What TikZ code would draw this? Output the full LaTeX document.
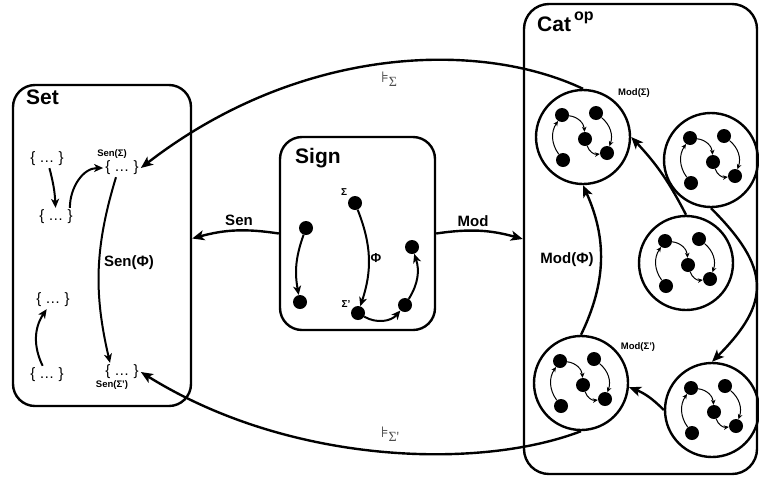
\documentclass[tikz,border=0pt]{standalone}
\usepackage{amsmath,amssymb}
\usepackage{fontspec}
\setmainfont{Liberation Sans}
\newfontfamily\modelsfont{DejaVu Sans}
\newfontfamily\subfont{Liberation Serif}
\usetikzlibrary{arrows.meta,calc,positioning}

\tikzset{
	panel/.style={draw, line width=2.4pt, rounded corners=22pt, inner sep=0pt},
	paneltitle/.style={anchor=base west, inner sep=0pt, font=\fontsize{21}{21}\selectfont\bfseries},
	setelem/.style={inner sep=2pt, font=\fontsize{15}{15}\selectfont},
	smalllbl/.style={inner sep=0pt, font=\fontsize{9.5}{9.5}\selectfont\bfseries},
	arrlbl/.style={inner sep=0pt, font=\fontsize{15}{15}\selectfont\bfseries},
	models/.style={inner sep=0pt, text=black!70, font=\fontsize{15}{15}\selectfont},
	sdot/.style={circle, fill, inner sep=0pt, minimum size=14pt},
	modcirc/.style={circle, draw, line width=2.4pt, inner sep=0pt, minimum size=94pt},
	bigarr/.style={line width=2.4pt, -{Stealth[length=12pt,width=10pt,inset=3pt]}},
	midarr/.style={line width=2pt, -{Stealth[length=9pt,width=8pt,inset=2.5pt]}},
	thinarr/.style={line width=1pt, -{Stealth[length=5pt,width=4.5pt,inset=1.5pt]}}
}

% satisfaction symbol with a serif subscript
\newcommand{\sat}[1]{{\modelsfont ⊧}\raisebox{-4pt}{\subfont\fontsize{14}{14}\selectfont #1}}

% small category drawn inside a model circle
\newcommand{\modgraph}[1]{%
	\node[sdot] (#1a) at ($(#1)+(-21,22)$) {};
	\node[sdot] (#1b) at ($(#1)+(13,24)$) {};
	\node[sdot] (#1c) at ($(#1)+(2,-2)$) {};
	\node[sdot] (#1d) at ($(#1)+(24,-16)$) {};
	\node[sdot] (#1e) at ($(#1)+(-20,-23)$) {};
	\draw[thinarr] (#1e) to[bend left=35] (#1a);
	\draw[thinarr] (#1a) to[bend left=40] (#1c);
	\draw[thinarr] (#1b) to[bend left=35] (#1d);
	\draw[thinarr] (#1c) to[bend right=40] (#1d);
}

\begin{document}
\begin{tikzpicture}[x=1pt, y=1pt]
	\useasboundingbox (0,0) rectangle (759,-477);

	% panels
	\node[panel, minimum width=178pt, minimum height=321pt] (set) at (102,-245.5) {};
	\node[panel, minimum width=155pt, minimum height=193pt] (sign) at (357.5,-233.5) {};
	\node[panel, minimum width=233pt, minimum height=470pt, rounded corners=25pt] (cat) at (640.5,-239) {};
	\node[paneltitle] (settitle) at (26,-104) {Set};
	\node[paneltitle] (signtitle) at (295,-163) {Sign};
	\node[paneltitle] (cattitle) at (537,-31) {Cat\hspace{3pt}\raisebox{11pt}{\fontsize{16}{16}\selectfont op}};

	% Set
	\node[setelem] (s1) at (47,-159) {\{ … \}};
	\node[setelem] (s2) at (56,-217) {\{ … \}};
	\node[setelem] (s3) at (122,-168) {\{ … \}};
	\node[setelem] (s4) at (53,-300) {\{ … \}};
	\node[setelem] (s5) at (47,-375) {\{ … \}};
	\node[setelem] (s6) at (122,-372) {\{ … \}};
	\node[smalllbl] (sensig) at (112,-154) {Sen(Σ)};
	\node[smalllbl] (sensigp) at (112,-385) {Sen(Σ')};
	\node[arrlbl] (senphi) at (129,-263) {Sen(Φ)};
	\draw[midarr] (s1) to[bend left=6] (s2);
	\draw[midarr] ($(s2.north east)+(-5,0)$) to[out=90, in=180] (s3.west);
	\draw[midarr] ($(s3.south)+(-6,0)$) to[bend right=15] ($(s6.north)+(-12,0)$);
	\draw[midarr] (s5) to[bend left=30] (s4);

	% Sign
	\node[sdot] (d1) at (355,-203) {};
	\node[sdot] (d2) at (306,-228) {};
	\node[sdot] (d3) at (300,-302) {};
	\node[sdot] (d4) at (358,-313) {};
	\node[sdot] (d5) at (405,-305) {};
	\node[sdot] (d6) at (412,-247) {};
	\node[smalllbl, font=\fontsize{10}{10}\selectfont\bfseries] (sig) at (344,-192) {Σ};
	\node[smalllbl, font=\fontsize{10}{10}\selectfont\bfseries] (sigp) at (346,-304) {Σ'};
	\node[arrlbl, font=\fontsize{13}{13}\selectfont\bfseries] (phi) at (376,-258) {Φ};
	\draw[midarr] (d2) to[bend right=15] (d3);
	\draw[midarr] (d1) to[bend left=20] (d4);
	\draw[midarr] (d4) to[bend right=40] (d5);
	\draw[midarr] (d5) to[bend right=25] (d6);

	% Cat^op
	\node[modcirc] (c1) at (583,-137) {};
	\node[modcirc] (c2) at (711,-160) {};
	\node[modcirc] (c3) at (686,-263) {};
	\node[modcirc] (c4) at (581,-383) {};
	\node[modcirc] (c5) at (712,-410) {};
	\foreach \c in {c1,c2,c3,c4,c5}{
		\modgraph{\c}
	}
	\node[smalllbl] (modsig) at (634,-93) {Mod(Σ)};
	\node[smalllbl] (modsigp) at (638,-347) {Mod(Σ')};
	\node[arrlbl] (modphi) at (567,-260) {Mod(Φ)};
	\draw[bigarr] (c4.north) to[bend right=25] (c1.south);
	\draw[bigarr] (c3.north) to[bend right=8] (c1.east);
	\draw[bigarr] (c2.south) to[out=-45, in=45, looseness=1.4] (c5.north);
	\draw[bigarr] (c5.west) to[bend right=12] (c4.-5);

	% functors
	\draw[bigarr] (sign.west) to[bend right=12] ($(set.east |- sign.west)+(0,-5)$);
	\draw[bigarr] (sign.east) to[bend left=12] (cat.west);
	\node[arrlbl] (senlbl) at (239,-220) {Sen};
	\node[arrlbl] (modlbl) at (473,-221) {Mod};

	% satisfaction
	\draw[bigarr] (c1.north) .. controls (480,-40) and (300,-45) .. (s3.east);
	\draw[bigarr] (c4.south) .. controls (480,-470) and (290,-465) .. (s6.east);
	\node[models] (satl) at (389,-79) {\sat{Σ}};
	\node[models] (satlp) at (390,-434) {\sat{Σ'}};
\end{tikzpicture}
\end{document}
